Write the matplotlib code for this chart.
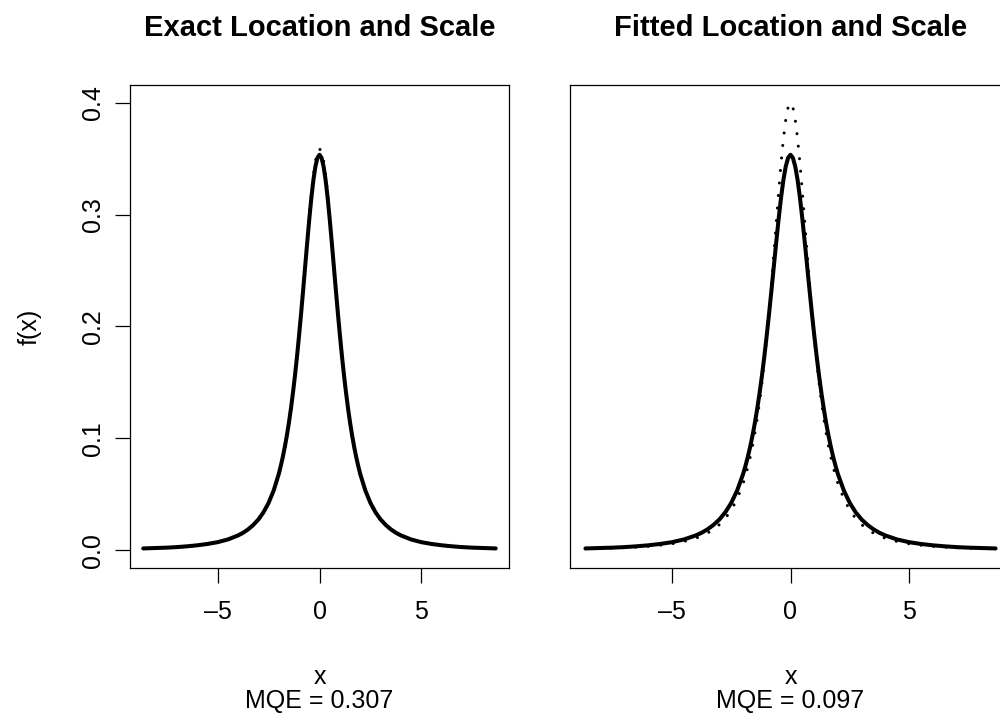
import matplotlib
matplotlib.use("Agg")
import matplotlib.pyplot as plt
from matplotlib.ticker import FixedLocator, FixedFormatter
from matplotlib.transforms import blended_transform_factory

plt.rcParams['font.family'] = ['Liberation Sans', 'DejaVu Sans']

# ---- data ----
x_vals = [-8.65, -8.0, -7.5, -7.0, -6.5, -6.0, -5.5, -5.0, -4.5, -4.0, -3.75, -3.5,
          -3.25, -3.0, -2.75, -2.5, -2.25, -2.0, -1.9, -1.8, -1.7, -1.6, -1.5, -1.4,
          -1.3, -1.2, -1.1, -1.0, -0.9, -0.8, -0.7, -0.6, -0.5, -0.4, -0.3, -0.2, -0.1,
          0.0,
          0.1, 0.2, 0.3, 0.4, 0.5, 0.6, 0.7, 0.8, 0.9, 1.0, 1.1, 1.2, 1.3, 1.4, 1.5,
          1.6, 1.7, 1.8, 1.9, 2.0, 2.25, 2.5, 2.75, 3.0, 3.25, 3.5, 3.75, 4.0, 4.5,
          5.0, 5.5, 6.0, 6.5, 7.0, 7.5, 8.0, 8.65]

true_density = [0.0015, 0.0019, 0.0022, 0.0027, 0.0034, 0.0043, 0.0055, 0.0071, 0.0095,
                0.0131, 0.0155, 0.0186, 0.0225, 0.0274, 0.0338, 0.0422, 0.0533, 0.0680,
                0.0753, 0.0834, 0.0925, 0.1027, 0.1141, 0.1269, 0.1411, 0.1567, 0.1739,
                0.1925, 0.2123, 0.2331, 0.2545, 0.2758, 0.2963, 0.3150, 0.3310, 0.3432,
                0.3509,
                0.3536,
                0.3509, 0.3432, 0.3310, 0.3150, 0.2963, 0.2758, 0.2545, 0.2331, 0.2123,
                0.1925, 0.1739, 0.1567, 0.1411, 0.1269, 0.1141, 0.1027, 0.0925, 0.0834,
                0.0753, 0.0680, 0.0533, 0.0422, 0.0338, 0.0274, 0.0225, 0.0186, 0.0155,
                0.0131, 0.0095, 0.0071, 0.0055, 0.0043, 0.0034, 0.0027, 0.0022, 0.0019,
                0.0015]

exact_fit = [0.0014, 0.0018, 0.0022, 0.0027, 0.0033, 0.0042, 0.0053, 0.0069, 0.0093,
             0.0128, 0.0152, 0.0182, 0.0219, 0.0268, 0.0331, 0.0414, 0.0524, 0.0670,
             0.0742, 0.0823, 0.0914, 0.1016, 0.1131, 0.1260, 0.1403, 0.1561, 0.1735,
             0.1924, 0.2127, 0.2341, 0.2561, 0.2781, 0.2993, 0.3188, 0.3354, 0.3482,
             0.3562,
             0.3590,
             0.3562, 0.3482, 0.3354, 0.3188, 0.2993, 0.2781, 0.2561, 0.2341, 0.2127,
             0.1924, 0.1735, 0.1561, 0.1403, 0.1260, 0.1131, 0.1016, 0.0914, 0.0823,
             0.0742, 0.0670, 0.0524, 0.0414, 0.0331, 0.0268, 0.0219, 0.0182, 0.0152,
             0.0128, 0.0093, 0.0069, 0.0053, 0.0042, 0.0033, 0.0027, 0.0022, 0.0018,
             0.0014]

fitted_fit = [0.0012, 0.0015, 0.0018, 0.0022, 0.0027, 0.0034, 0.0044, 0.0057, 0.0077,
              0.0106, 0.0127, 0.0152, 0.0185, 0.0228, 0.0284, 0.0358, 0.0458, 0.0596,
              0.0664, 0.0743, 0.0832, 0.0934, 0.1050, 0.1182, 0.1332, 0.1502, 0.1693,
              0.1905, 0.2138, 0.2390, 0.2657, 0.2931, 0.3202, 0.3456, 0.3678, 0.3851,
              0.3962,
              0.4000,
              0.3962, 0.3851, 0.3678, 0.3456, 0.3202, 0.2931, 0.2657, 0.2390, 0.2138,
              0.1905, 0.1693, 0.1502, 0.1332, 0.1182, 0.1050, 0.0934, 0.0832, 0.0743,
              0.0664, 0.0596, 0.0458, 0.0358, 0.0284, 0.0228, 0.0185, 0.0152, 0.0127,
              0.0106, 0.0077, 0.0057, 0.0044, 0.0034, 0.0027, 0.0022, 0.0018, 0.0015,
              0.0012]

titles = ["Exact Location and Scale", "Fitted Location and Scale"]
mqe_labels = ["MQE = 0.307", "MQE = 0.097"]
x_ticks = [-5, 0, 5]
x_tick_labels = ["\u20135", "0", "5"]
y_ticks = [0.0, 0.1, 0.2, 0.3, 0.4]
y_tick_labels = ["0.0", "0.1", "0.2", "0.3", "0.4"]

W, H = 1000, 720
fig = plt.figure(figsize=(W / 100, H / 100), dpi=100)

def px_rect(left, top, right, bottom):
    return [left / W, 1 - bottom / H, (right - left) / W, (bottom - top) / H]

ax1 = fig.add_axes(px_rect(130, 85, 509, 568))
ax2 = fig.add_axes(px_rect(570, 85, 1011, 568))

BASE = 18
for i, (ax, fit) in enumerate([(ax1, exact_fit), (ax2, fitted_fit)]):
    ax.plot(x_vals, true_density, color='black', lw=2.9, solid_capstyle='round',
            solid_joinstyle='round', zorder=3)
    ax.plot(x_vals, fit, color='black', lw=2.2, linestyle=(0, (0.01, 4.1)),
            dash_capstyle='round', zorder=4)
    ax.set_xlim(-9.3, 9.3)
    ax.set_ylim(-0.016, 0.416)
    ax.xaxis.set_major_locator(FixedLocator(x_ticks))
    ax.xaxis.set_major_formatter(FixedFormatter(x_tick_labels))
    ax.tick_params(axis='x', direction='out', length=10.8, width=0.9,
                   labelsize=BASE, pad=12)
    for sp in ax.spines.values():
        sp.set_linewidth(0.9)
    trans = blended_transform_factory(ax.transAxes, fig.transFigure)
    ax.text(0.5, 1 - 28 / H, titles[i], transform=trans, ha='center', va='center',
            fontsize=21, fontweight='bold')
    ax.text(0.5, 1 - 677 / H, "x", transform=trans, ha='center', va='center',
            fontsize=BASE)
    ax.text(0.5, 1 - 701 / H, mqe_labels[i], transform=trans, ha='center',
            va='center', fontsize=BASE)

ax1.yaxis.set_major_locator(FixedLocator(y_ticks))
ax1.yaxis.set_major_formatter(FixedFormatter(y_tick_labels))
ax1.tick_params(axis='y', direction='out', length=10.8, width=0.9,
                labelsize=BASE, pad=16)
for lab in ax1.get_yticklabels():
    lab.set_rotation(90)
    lab.set_va('center')
    lab.set_ha('center')
ax2.set_yticks([])

fig.text(30 / W, 1 - 327 / H, "f(x)", rotation=90, ha='center', va='center',
         fontsize=BASE)

fig.savefig("out.png", dpi=100)
